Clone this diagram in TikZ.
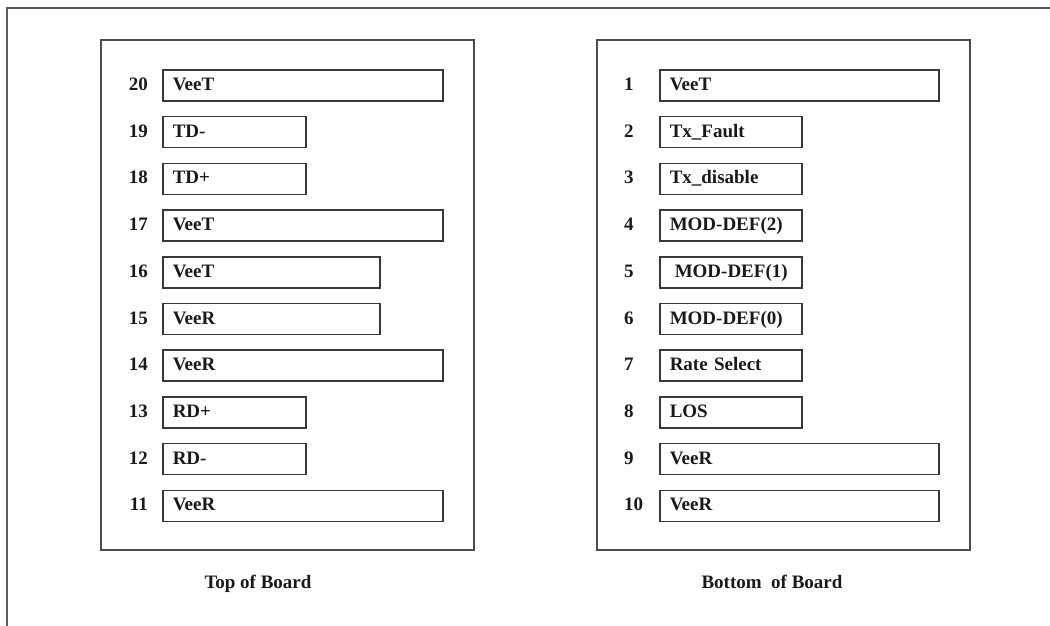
\documentclass[tikz,border=0pt]{standalone}
\usepackage{fontspec}
\setmainfont{Liberation Serif}
\begin{document}
\begin{tikzpicture}[x=1pt,y=-1pt,
  frameline/.style={draw=black!65,line width=1.8pt},
  panel/.style={draw=black!70,line width=1.6pt},
  pinbox/.style={draw=black!78,line width=1.5pt,rectangle,anchor=west,minimum height=31pt,
    inner xsep=10pt,inner ysep=0pt,align=left,text height=13pt,text depth=3pt,
    font=\fontsize{19}{22}\selectfont\bfseries,text=black!90},
  longL/.style={pinbox,text width=260pt},
  midL/.style={pinbox,text width=197pt},
  shortL/.style={pinbox,text width=123pt},
  longR/.style={pinbox,text width=259pt},
  shortR/.style={pinbox,text width=122pt},
  pinnum/.style={inner sep=0pt,text height=13pt,text depth=3pt,
    font=\fontsize{19}{22}\selectfont\bfseries,text=black!90},
  caption/.style={inner sep=0pt,anchor=base,font=\fontsize{19}{22}\selectfont\bfseries,text=black!90}]
\useasboundingbox (0,0) rectangle (1050,626);
% outer frame (only left and top edges visible)
\coordinate (fbl) at (7,626);
\coordinate (ftl) at (7,8);
\coordinate (ftr) at (1050,8);
\draw[frameline] (fbl) -- (ftl) -- (ftr);
% panels
\node[panel,rectangle,minimum width=373pt,minimum height=510pt,anchor=north west,inner sep=0pt] (top) at (100,39) {};
\node[panel,rectangle,minimum width=373pt,minimum height=510pt,anchor=north west,inner sep=0pt] (bot) at (596,39) {};
% left panel pins
\foreach \n/\lab/\sty [count=\i from 0] in {20/VeeT/longL,19/TD-/shortL,18/TD+/shortL,17/VeeT/longL,16/VeeT/midL,15/VeeR/midL,14/VeeR/longL,13/RD+/shortL,12/RD-/shortL,11/VeeR/longL}{
  \node[\sty] (p\n) at (162,85.5+46.7*\i) {\lab};
  \node[pinnum,anchor=east] (n\n) at (148,85.5+46.7*\i) {\n};
}
% right panel pins
\foreach \n/\lab/\sty [count=\i from 0] in {1/VeeT/longR,2/Tx\_Fault/shortR,3/Tx\_disable/shortR,4/MOD-DEF(2)/shortR,5/\hspace{5pt}MOD-DEF(1)/shortR,6/MOD-DEF(0)/shortR,7/Rate Select/shortR,8/LOS/shortR,9/VeeR/longR,10/VeeR/longR}{
  \node[\sty] (p\n) at (659,85.5+46.7*\i) {\lab};
  \node[pinnum,anchor=west] (n\n) at (624,85.5+46.7*\i) {\n};
}
\node[caption] (ctop) at (258,588) {Top of Board};
\node[caption] (cbot) at (772,588) {Bottom\ \ of Board};
\end{tikzpicture}
\end{document}
